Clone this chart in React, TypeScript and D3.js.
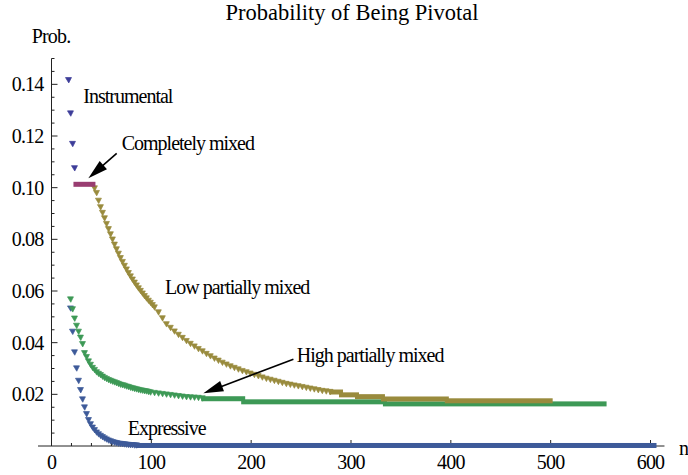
import React from "react";
import * as d3 from "d3";

// ---------------- data ----------------
const title = "Probability of  Being Pivotal";
const yAxisLabel = "Prob.";
const xAxisLabel = "n";

const xTickValues = [0, 100, 200, 300, 400, 500, 600];
const yTickValues = [0.02, 0.04, 0.06, 0.08, 0.1, 0.12, 0.14];

// Instrumental  [n, probability]
const instrumental: [number, number][] = [
  [17, 0.1417], [19, 0.1288], [21, 0.117], [23, 0.1076],
];

// Completely mixed: plateau [nStart, nEnd, probability]
const completelyMixedRuns: [number, number, number][] = [[25, 41, 0.1013]];

// Low partially mixed
const lowPartial: [number, number][] = [
  [43, 0.0998], [45, 0.098], [47, 0.095], [49, 0.0925], [51, 0.0903], [53, 0.0882],
  [55, 0.086], [57, 0.084], [59, 0.082], [61, 0.08], [63, 0.078], [65, 0.0762],
  [67, 0.0745], [69, 0.0728], [71, 0.0713], [73, 0.0698], [75, 0.0684], [77, 0.067],
  [79, 0.0657], [81, 0.0645], [83, 0.0633], [85, 0.0622], [87, 0.0611], [89, 0.0601],
  [91, 0.0591], [93, 0.0581], [95, 0.0572], [97, 0.0563], [99, 0.0555], [101, 0.0546],
  [103, 0.0537], [107, 0.0518], [111, 0.0495], [115, 0.0472], [119, 0.0458], [123, 0.0444],
  [127, 0.0431], [131, 0.0419], [135, 0.0407], [139, 0.0396], [143, 0.0386], [147, 0.0376],
  [151, 0.0367], [155, 0.0357], [159, 0.0348], [163, 0.0339], [167, 0.0331], [171, 0.0323],
  [175, 0.0316], [179, 0.0309], [183, 0.0303], [187, 0.0297], [191, 0.0291], [195, 0.0286],
  [199, 0.0281], [203, 0.0276], [207, 0.0271], [211, 0.0266], [215, 0.0261], [219, 0.0257],
  [223, 0.0253], [227, 0.0249], [231, 0.0245], [235, 0.0241], [239, 0.0238], [243, 0.0235],
  [247, 0.0232], [251, 0.0229], [255, 0.0226], [259, 0.0223], [263, 0.022], [267, 0.0217],
  [271, 0.0214], [275, 0.0212], [279, 0.021],
];
const lowPartialRuns: [number, number, number][] = [
  [281, 289, 0.0209], [291, 305, 0.0198], [307, 331, 0.0191], [333, 395, 0.0182], [397, 499, 0.0175],
];

// High partially mixed
const highPartial: [number, number][] = [
  [19, 0.0568], [21, 0.053], [23, 0.0494], [25, 0.0466], [27, 0.0443], [29, 0.042],
  [31, 0.0395], [33, 0.036], [35, 0.0345], [37, 0.0328], [39, 0.0315], [41, 0.0303],
  [43, 0.0295], [45, 0.0286], [47, 0.028], [49, 0.0275], [51, 0.0269], [53, 0.0264],
  [55, 0.026], [57, 0.0256], [59, 0.0253], [61, 0.025], [63, 0.0247], [65, 0.0244],
  [67, 0.0241], [69, 0.0238], [71, 0.0236], [73, 0.0234], [75, 0.0231], [77, 0.0229],
  [79, 0.0226], [81, 0.0224], [83, 0.0222], [85, 0.022], [87, 0.0218], [89, 0.0216],
  [91, 0.0215], [93, 0.0213], [95, 0.0212], [97, 0.021], [99, 0.0208],
  [103, 0.0206], [107, 0.0204], [111, 0.0202], [115, 0.02], [119, 0.0198], [123, 0.0196],
  [127, 0.0194], [131, 0.0192], [135, 0.019], [139, 0.0189], [143, 0.0188], [147, 0.0187],
  [151, 0.0185],
];
const highPartialRuns: [number, number, number][] = [
  [153, 191, 0.0183], [193, 333, 0.0171], [335, 553, 0.0163],
];

// Expressive
const expressive: [number, number][] = [
  [19, 0.0533], [21, 0.0443], [23, 0.0363], [25, 0.0301], [27, 0.0253], [29, 0.0217],
  [31, 0.0181], [33, 0.015], [35, 0.0124], [37, 0.0101], [39, 0.0085], [41, 0.0072],
  [43, 0.0062], [45, 0.0053], [47, 0.0046], [49, 0.004], [51, 0.0035], [53, 0.003],
  [55, 0.0026], [57, 0.0022], [59, 0.0019], [61, 0.0016], [63, 0.0014], [65, 0.0012],
  [67, 0.001], [69, 0.0009], [71, 0.0008], [73, 0.0007], [75, 0.0006], [77, 0.0005],
  [79, 0.0004], [81, 0.0004], [83, 0.0003], [85, 0.0003],
];
const expressiveRuns: [number, number, number][] = [[87, 603, 0.0002]];

// Annotations (data coordinates)
const labels: { text: string; n: number; p: number }[] = [
  { text: "Instrumental", n: 31.9, p: 0.1327 },
  { text: "Completely mixed", n: 70.3, p: 0.1146 },
  { text: "Low partially mixed", n: 113.7, p: 0.0588 },
  { text: "High partially mixed", n: 245.7, p: 0.0326 },
  { text: "Expressive", n: 76.4, p: 0.0041 },
];
const arrows: { from: [number, number]; to: [number, number] }[] = [
  { from: [65.3, 0.1133], to: [36.9, 0.1036] },
  { from: [242.3, 0.0336], to: [152.1, 0.0204] },
];

const colors = {
  instrumental: "#3d3d99",
  completely: "#993d71",
  low: "#998b3d",
  high: "#3d9956",
  expressive: "#3d5a99",
};

const FONT = "'Liberation Serif', 'DejaVu Serif', serif";

export default function App() {
  const x = d3.scaleLinear().domain([0, 600]).range([51.5, 650.5]);
  const y = d3.scaleLinear().domain([0, 0.15]).range([446, 58.5]);

  const xMinor = d3.range(0, 601, 20);
  const yMinor = d3.range(1, 31).map((i) => i * 0.005);

  const marker = "M-3,-2.4 L3,-2.4 L0.3,3 Z";

  const points = (data: [number, number][], color: string, key: string) =>
    data.map(([n, p], i) => (
      <path
        key={key + i}
        d={marker}
        transform={`translate(${x(n)},${y(p)})`}
        fill={color}
        stroke={color}
        strokeWidth={0.7}
        strokeLinejoin="round"
      />
    ));

  const runs = (data: [number, number, number][], color: string, key: string) =>
    data.map(([a, b, p], i) => (
      <rect
        key={key + i}
        x={x(a) - 3}
        y={y(p) - 2.5}
        width={x(b) - x(a) + 6}
        height={5}
        fill={color}
      />
    ));

  const arrowEls = arrows.map((a, i) => {
    const x1 = x(a.from[0]), y1 = y(a.from[1]);
    const x2 = x(a.to[0]), y2 = y(a.to[1]);
    const dx = x2 - x1, dy = y2 - y1;
    const len = Math.hypot(dx, dy);
    const ux = dx / len, uy = dy / len;
    const head = 20, hw = 5.5;
    const bx = x2 - ux * head, by = y2 - uy * head;
    const p1 = [bx - uy * hw, by + ux * hw];
    const p2 = [bx + uy * hw, by - ux * hw];
    return (
      <g key={"ar" + i}>
        <line x1={x1} y1={y1} x2={bx + ux * 2} y2={by + uy * 2} stroke="#000" strokeWidth={1.6} />
        <path d={`M${x2},${y2} L${p1[0]},${p1[1]} L${p2[0]},${p2[1]} Z`} fill="#000" />
      </g>
    );
  });

  const textStyle = { fontFamily: FONT, fontSize: 20, letterSpacing: "-1px" } as const;
  const tickStyle = { fontFamily: FONT, fontSize: 20, letterSpacing: "-0.8px" } as const;

  return (
    <div style={{ position: "fixed", left: 0, top: 0 }}>
      <svg width={688} height={475} viewBox="0 0 688 475" style={{ display: "block", background: "#fff" }}>
        <rect width={688} height={475} fill="#fff" />
        <text x={352} y={20} textAnchor="middle" style={{ fontFamily: FONT, fontSize: 22.5 }} fill="#000">
          {title}
        </text>
        <text x={31.7} y={42.7} {...tickStyle} fill="#000">{yAxisLabel}</text>
        <text x={679} y={455} {...tickStyle} fill="#000">{xAxisLabel}</text>

        {/* axes */}
        <g stroke="#222" strokeWidth={1}>
          <line x1={x(-13.5)} x2={x(614)} y1={y(0)} y2={y(0)} />
          <line x1={x(0)} x2={x(0)} y1={y(0)} y2={y(0.15)} />
          {xMinor.map((v) => (
            <line key={"xm" + v} x1={x(v)} x2={x(v)} y1={y(0)} y2={y(0) - (v % 100 === 0 ? 6 : 3)} />
          ))}
          {yMinor.map((v, i) => (
            <line
              key={"ym" + i}
              x1={x(0)}
              x2={x(0) + ((i + 1) % 4 === 0 ? 6 : 3)}
              y1={y(v)}
              y2={y(v)}
            />
          ))}
        </g>
        {xTickValues.map((v) => (
          <text key={"xt" + v} x={x(v)} y={469} textAnchor="middle" {...tickStyle} fill="#000">
            {d3.format("d")(v)}
          </text>
        ))}
        {yTickValues.map((v) => (
          <text key={"yt" + v} x={x(0) - 8} y={y(v)} dy="0.35em" textAnchor="end" {...tickStyle} fill="#000">
            {d3.format(".2f")(v)}
          </text>
        ))}

        {/* series */}
        {runs(expressiveRuns, colors.expressive, "er")}
        {points(expressive, colors.expressive, "ep")}
        {runs(highPartialRuns, colors.high, "hr")}
        {points(highPartial, colors.high, "hp")}
        {runs(lowPartialRuns, colors.low, "lr")}
        {points(lowPartial, colors.low, "lp")}
        {runs(completelyMixedRuns, colors.completely, "cr")}
        {points(instrumental, colors.instrumental, "ip")}

        {labels.map((l) => (
          <text key={l.text} x={x(l.n)} y={y(l.p)} {...textStyle} fill="#000">
            {l.text}
          </text>
        ))}
        {arrowEls}
      </svg>
    </div>
  );
}
